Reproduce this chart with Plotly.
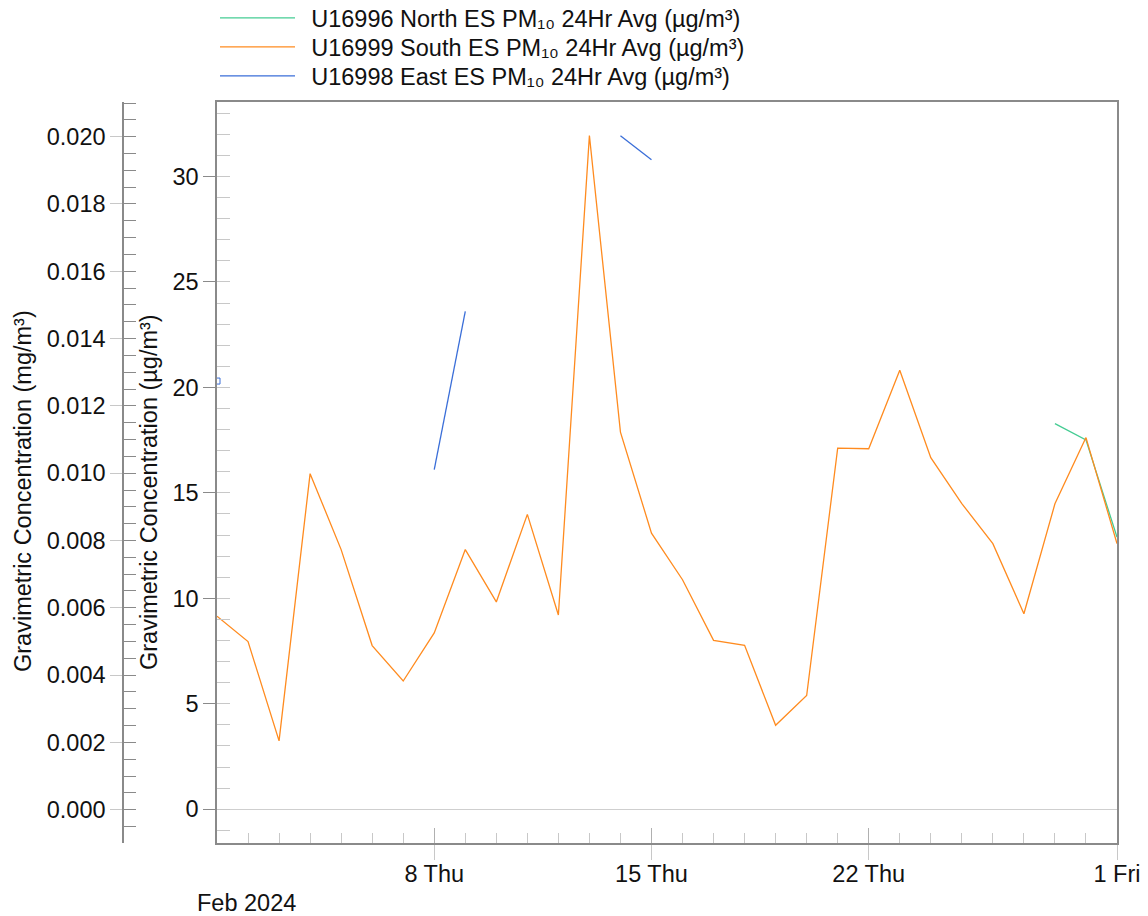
import plotly.graph_objects as go
import pandas as pd

dates = pd.date_range("2024-02-01", "2024-03-01", freq="D").strftime("%Y-%m-%d").tolist()

north = [None] * 27 + [18.28, 17.51, 12.9]
south = [9.15, 7.95, 3.24, 15.91, 12.31, 7.76, 6.08, 8.36, 12.31, 9.83,
         13.98, 9.21, 31.94, 17.88, 13.09, 10.88, 8.01, 7.77, 3.98, 5.39,
         17.12, 17.09, 20.81, 16.67, 14.49, 12.59, 9.27, 14.48, 17.62, 12.59]
east = [20.3, None, None, None, None, None, None, 16.1, 23.6, None,
        None, None, None, 31.93, 30.79] + [None] * 15

names = ["U16996 North ES PM₁₀ 24Hr Avg (µg/m³)",
         "U16999 South ES PM₁₀ 24Hr Avg (µg/m³)",
         "U16998 East ES PM₁₀ 24Hr Avg (µg/m³)"]
colors = ["#45cc93", "#ff8b1f", "#3a6ed8"]

major_x = ["2024-02-08", "2024-02-15", "2024-02-22", "2024-03-01"]
major_x_text = ["8 Thu", "15 Thu", "22 Thu", "1 Fri"]

FONT = "Liberation Sans, Arial, sans-serif"
FS = 23.5
OFF = 8  # page body margin
W, H = 1148 - OFF, 916 - OFF
PL, PR, PT, PB = 217 - OFF, 1117 - OFF, 102 - OFF, 843 - OFF
ML, MR, MT, MB = 0, W - PR, PT, H - PB
PW = W - ML - MR
PH = H - MT - MB
x0 = PL / PW
yr = [-1.60, 33.53]
yr2 = [-0.00099, 0.02103]


def px_x(page_x):
    return (page_x - OFF) / PW


def px_y(page_y):
    return (PB - (page_y - OFF)) / PH


fig = go.Figure()
legend_ids = ["legend", "legend2", "legend3"]
for vals, nm, col, lg in zip([north, south, east], names, colors, legend_ids):
    fig.add_trace(go.Scatter(x=dates, y=vals, name="\u00a0\u2009" + nm, mode="lines",
                             line=dict(color=col, width=1.3),
                             connectgaps=False, legend=lg))
# isolated east point drawn as a small marker
iso = [v if (i == 0) else None for i, v in enumerate(east)]
fig.add_trace(go.Scatter(x=dates, y=iso, mode="markers", showlegend=False,
                         marker=dict(symbol="square-open", size=6, color=colors[2],
                                     line=dict(width=1, color=colors[2]))))

axis_gray = "#8a8a8a"
light = "#c8c8c8"
xr = ["2024-02-01", "2024-03-01"]

row_centers = [20, 49, 78]


def legend_cfg(cy):
    return dict(x=px_x(220) - 5 / PW, y=px_y(cy - 24), xanchor="left", yanchor="top",
                font=dict(size=FS, family=FONT, color="#111"),
                bgcolor="rgba(0,0,0,0)", itemwidth=75)


fig.update_layout(
    width=W, height=H,
    margin=dict(l=ML, r=MR, t=MT, b=MB, autoexpand=False),
    paper_bgcolor="white", plot_bgcolor="white",
    font=dict(family=FONT, size=FS, color="#111"),
    showlegend=True,
    legend=legend_cfg(row_centers[0]),
    legend2=legend_cfg(row_centers[1]),
    legend3=legend_cfg(row_centers[2]),
    xaxis=dict(domain=[x0, 1], type="date", range=xr,
               tickvals=major_x, ticktext=major_x_text,
               ticks="outside", ticklen=15, tickcolor=light, tickwidth=1,
               ticklabelstandoff=-6,
               showline=True, linecolor=axis_gray, linewidth=1.5, mirror=True,
               showgrid=False, zeroline=False, automargin=False,
               tickfont=dict(size=FS)),
    xaxis2=dict(domain=[x0, 1], type="date", range=xr, overlaying="x",
                anchor="y", side="bottom",
                tickvals=major_x, ticks="inside", ticklen=15,
                tickcolor="#b0b0b0", tickwidth=1,
                minor=dict(ticks="inside", ticklen=10, dtick=86400000,
                           tick0="2024-02-01", tickcolor=light, tickwidth=1),
                showticklabels=False, showline=False, showgrid=False,
                zeroline=False, automargin=False),
    yaxis=dict(range=yr, anchor="x", side="left",
               tickvals=[0, 5, 10, 15, 20, 25, 30],
               ticks="outside", ticklen=12, tickcolor=axis_gray, tickwidth=1,
               showline=True, linecolor=axis_gray, linewidth=1.5, mirror=True,
               showgrid=False, zeroline=True, zerolinecolor="#cfcfcf",
               zerolinewidth=1, automargin=False,
               tickfont=dict(size=FS)),
    yaxis3=dict(range=yr, overlaying="y", anchor="x", side="left",
                tickmode="linear", tick0=0, dtick=1,
                ticks="inside", ticklen=13, tickcolor=light, tickwidth=1,
                showticklabels=False, showline=False, showgrid=False,
                zeroline=False, automargin=False),
    yaxis2=dict(range=yr2, overlaying="y", anchor="free", position=px_x(123),
                side="left", tickmode="linear", tick0=0, dtick=0.002,
                tickformat=".3f",
                ticks="outside", ticklen=12, tickcolor=light, tickwidth=1,
                showline=True, linecolor=axis_gray, linewidth=1.5,
                showgrid=False, zeroline=False, automargin=False,
                tickfont=dict(size=FS)),
    yaxis4=dict(range=yr2, overlaying="y", anchor="free", position=px_x(123),
                side="left", tickmode="linear", tick0=0, dtick=0.0005,
                ticks="inside", ticklen=12, tickcolor=axis_gray, tickwidth=1,
                showticklabels=False, showline=False, showgrid=False,
                zeroline=False, automargin=False),
    annotations=[
        dict(text="Feb 2024", xref="paper", yref="paper",
             x=px_x(246), y=px_y(903), xanchor="center", yanchor="middle",
             showarrow=False, font=dict(size=FS, family=FONT, color="#111")),
        dict(text="Gravimetric Concentration (µg/m³)", xref="paper", yref="paper",
             x=px_x(149), y=px_y(492), xanchor="center", yanchor="middle",
             textangle=-90, showarrow=False,
             font=dict(size=FS, family=FONT, color="#111")),
        dict(text="Gravimetric Concentration (mg/m³)", xref="paper", yref="paper",
             x=px_x(23), y=px_y(491), xanchor="center", yanchor="middle",
             textangle=-90, showarrow=False,
             font=dict(size=FS, family=FONT, color="#111")),
    ],
)

# invisible traces to activate overlay axes
fig.add_trace(go.Scatter(x=[None], y=[None], xaxis="x2", yaxis="y", showlegend=False, hoverinfo="skip"))
fig.add_trace(go.Scatter(x=[None], y=[None], xaxis="x", yaxis="y3", showlegend=False, hoverinfo="skip"))
fig.add_trace(go.Scatter(x=[None], y=[None], xaxis="x", yaxis="y2", showlegend=False, hoverinfo="skip"))
fig.add_trace(go.Scatter(x=[None], y=[None], xaxis="x", yaxis="y4", showlegend=False, hoverinfo="skip"))

fig.write_html("out.html")
